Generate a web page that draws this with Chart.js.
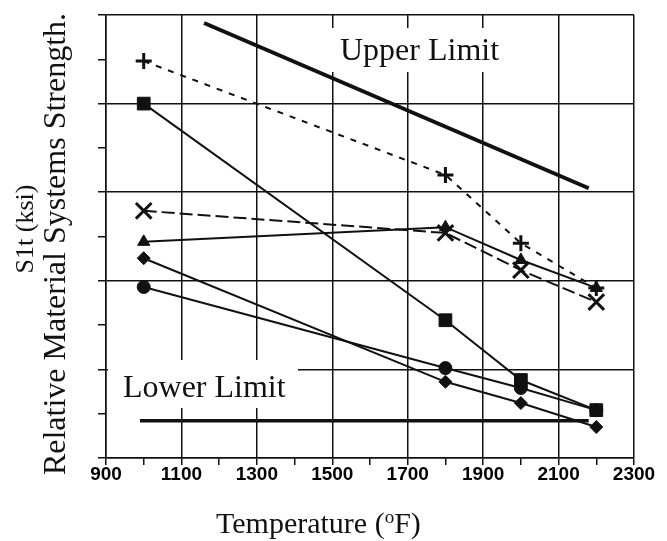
<!DOCTYPE html>
<html>
<head>
<meta charset="utf-8">
<script src="https://cdn.jsdelivr.net/npm/chart.js@4"></script>
<style>
    html, body { margin: 0; padding: 0; background: #fff; }
    #wrap { width: 667px; height: 541px; }
</style>
</head>
<body>
<div id="wrap"><canvas id="strengthgraph" width="667" height="541"></canvas></div>
<script>
// Temperaturen der Messpunkte (oF)
var temps = [1000, 1800, 2000, 2200];

// relative Festigkeit (Skala 0..10, ohne Beschriftung)
var plusVals = [8.96, 6.39, 4.85, 3.84];
var squareVals = [8.0, 3.11, 1.76, 1.08];
var crossVals = [5.58, 5.08, 4.24, 3.52];
var triangleVals = [4.88, 5.21, 4.47, 3.84];
var diamondVals = [4.51, 1.72, 1.24, 0.70];
var circleVals = [3.86, 2.03, 1.58, 1.08];

// Grenzlinien
var upperTemps = [1160, 2180];
var upperVals = [9.82, 6.09];
var lowerTemps = [990, 2180];
var lowerVals = [0.84, 0.84];

function pts(xs, ys) {
    return xs.map((x, i) => ({x: x, y: ys[i]}));
}

function series(label, xs, ys, style, radius, dash) {
    return {
        label: label,
        data: pts(xs, ys),
        showLine: true,
        borderColor: "#111",
        backgroundColor: "#111",
        borderWidth: 2,
        borderDash: dash || [],
        pointStyle: style,
        pointRadius: radius,
        pointBorderWidth: style == "cross" || style == "crossRot" ? 3 : 1,
        pointBorderColor: "#111",
        pointBackgroundColor: "#111"
    };
}

var textPlugin = {
    id: "texts",
    beforeDatasetsDraw(chart) {
        var ctx = chart.ctx;
        ctx.save();
        ctx.fillStyle = "#fff";
        ctx.fillRect(325, 28, 177, 44);
        ctx.fillRect(108, 360, 190, 48);
        ctx.fillStyle = "#111";
        ctx.font = "32px 'Liberation Serif'";
        ctx.textBaseline = "alphabetic";
        ctx.textAlign = "left";
        ctx.fillText("Upper Limit", 340, 60);
        ctx.fillText("Lower Limit", 123, 397);
        ctx.restore();
    },
    afterDraw(chart) {
        var ctx = chart.ctx;
        ctx.save();
        ctx.fillStyle = "#111";
        ctx.textBaseline = "alphabetic";
        ctx.textAlign = "left";
        // x title, hochgestelltes o
        var x0 = 216, base = 533;
        ctx.font = "30px 'Liberation Serif'";
        var part1 = "Temperature (";
        ctx.fillText(part1, x0, base);
        var w1 = ctx.measureText(part1).width;
        ctx.font = "19px 'Liberation Serif'";
        ctx.fillText("o", x0 + w1, base - 10);
        var w2 = ctx.measureText("o").width;
        ctx.font = "30px 'Liberation Serif'";
        ctx.fillText("F)", x0 + w1 + w2, base);

        // y titles
        ctx.textAlign = "center";
        ctx.save();
        ctx.translate(33, 229);
        ctx.rotate(-Math.PI / 2);
        ctx.font = "26px 'Liberation Serif'";
        ctx.fillText("S1t (ksi)", 0, 0);
        ctx.restore();
        ctx.save();
        ctx.translate(65, 244);
        ctx.rotate(-Math.PI / 2);
        ctx.font = "32px 'Liberation Serif'";
        ctx.fillText("Relative Material Systems Strength.", 0, 0);
        ctx.restore();
        ctx.restore();
    }
};

var ctx = document.getElementById("strengthgraph").getContext("2d");
var strengthgraph = new Chart(ctx, {
    type: "scatter",
    data: {
        datasets: [
            Object.assign(series("Upper Limit", upperTemps, upperVals, false, 0), {borderWidth: 4}),
            Object.assign(series("Lower Limit", lowerTemps, lowerVals, false, 0), {borderWidth: 3.5}),
            series("plus", temps, plusVals, "cross", 8, [6, 7]),
            series("square", temps, squareVals, "rect", 9),
            series("cross", temps, crossVals, "crossRot", 11, [13, 5]),
            series("triangle", temps, triangleVals, "triangle", 7),
            series("diamond", temps, diamondVals, "rectRot", 6.5),
            series("circle", temps, circleVals, "circle", 6.5)
        ]
    },
    options: {
        responsive: false,
        animation: false,
        layout: {
            padding: {top: 15, right: 33, left: 0, bottom: 0}
        },
        plugins: {
            legend: {display: false},
            tooltip: {enabled: false}
        },
        scales: {
            x: {
                type: "linear",
                min: 900,
                max: 2300,
                afterFit: function (scale) { scale.height = 83; },
                border: {color: "#111", width: 1.5},
                grid: {
                    color: c => (c.tick.value - 900) % 200 == 0 ? "#111" : "rgba(0,0,0,0)",
                    lineWidth: 1.5,
                    tickColor: "#111",
                    tickLength: 7
                },
                ticks: {
                    stepSize: 100,
                    autoSkip: false,
                    maxRotation: 0,
                    padding: -2,
                    color: "#000",
                    font: {family: "'Liberation Sans'", size: 19, weight: "bold"},
                    callback: v => (v - 900) % 200 == 0 ? String(v) : ""
                }
            },
            y: {
                min: 0,
                max: 10,
                afterFit: function (scale) { scale.width = 106; },
                border: {color: "#111", width: 1.5},
                grid: {
                    color: c => c.tick.value % 2 == 0 ? "#111" : "rgba(0,0,0,0)",
                    lineWidth: 1.5,
                    tickColor: "#111",
                    tickLength: 8
                },
                ticks: {
                    stepSize: 1,
                    display: false
                }
            }
        }
    },
    plugins: [textPlugin]
});
</script>
</body>
</html>
